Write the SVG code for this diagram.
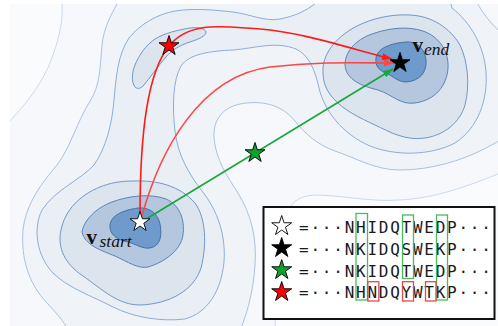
<svg xmlns="http://www.w3.org/2000/svg" width="498" height="326" viewBox="0 0 498 326">
  <style>
    .c0{fill:#f6f8fb;stroke:#ccdaeb;stroke-width:1}
    .c1{fill:#f0f4f9;stroke:#a9c2e1;stroke-width:1}
    .c2{fill:#eaeff6;stroke:#8badd6;stroke-width:1}
    .c3{fill:#dce4ee;stroke:#7097c7;stroke-width:1}
    .c4{fill:#b5c7de;stroke:#5a83b8;stroke-width:1}
    .c5{fill:#6e9bcc;stroke:#46709f;stroke-width:1}
    .edge{fill:none;stroke-width:1.6}
    .red{stroke:#ff1a1a}
    .red2{stroke:#ff4646}
    .green{stroke:#16a83a}
    .star{stroke:#000;stroke-width:0.9}
    .lbl{font-family:"Liberation Serif","DejaVu Serif",serif;fill:#111}
    .seq{font-family:"DejaVu Sans Mono",monospace;font-size:16px;letter-spacing:1.75px;fill:#1a1a1a}
    .gb{fill:none;stroke:#4cbb5e;stroke-width:1.3}
    .rb{fill:none;stroke:#e24a4a;stroke-width:1.3}
  </style>
  <defs>
    <clipPath id="plot"><rect x="10" y="4" width="488" height="322"/></clipPath>
    <path id="star" d="M0,-10.5 L2.36,-3.24 L9.99,-3.24 L3.81,1.24 L6.17,8.49 L0,4.01 L-6.17,8.49 L-3.81,1.24 L-9.99,-3.24 L-2.36,-3.24 Z"/>
    <marker id="ahRed" viewBox="0 0 11 8" refX="10" refY="4" markerWidth="11" markerHeight="8" markerUnits="userSpaceOnUse" orient="auto">
      <path d="M0,0.5 L10.5,4 L0,7.5 Z" fill="#ff1a1a"/>
    </marker>
    <marker id="ahRed2" viewBox="0 0 11 8" refX="10" refY="4" markerWidth="11" markerHeight="8" markerUnits="userSpaceOnUse" orient="auto">
      <path d="M0,0.5 L10.5,4 L0,7.5 Z" fill="#ff4646"/>
    </marker>
    <marker id="ahGreen" viewBox="0 0 11 8" refX="10" refY="4" markerWidth="11" markerHeight="8" markerUnits="userSpaceOnUse" orient="auto">
      <path d="M0,0.5 L10.5,4 L0,7.5 Z" fill="#16a83a"/>
    </marker>
  </defs>

  <rect width="498" height="326" fill="#ffffff"/>

  <!-- contour map of the landscape -->
  <g id="landscape" clip-path="url(#plot)">
    <rect x="10" y="4" width="488" height="322" fill="#fafbfd"/>
    <path class="c0" d="M62,-20 L62,4 C63,20 60,35 53,55 C45,78 30,105 -20,150 L-20,350 L274,350 C276,300 280,235 287,213 C292,200 302,195 318,195 C345,196 372,202 400,200 C435,198 465,188 520,165 L520,-20 Z"/>
    <path class="c1" d="M117,-20 L117,4 C111,15 104,27 102,45 C100,65 101,85 89,103 C78,120 70,148 57,165 C42,183 26,203 23,230 C21,258 28,283 47,303 C57,314 66,322 72,340 L236,340 C246,318 253,295 255,265 C257,238 251,214 238,193 C227,176 216,160 214,138 C213,120 222,108 240,104 C260,100 281,104 294,120 C305,134 318,145 335,151 C356,158 375,170 400,170 C432,170 462,160 482,150 C492,145 500,140 520,130 L520,45 C505,38 492,25 485,15 C480,8 475,2 470,-20 Z"/>
    <path class="c2" d="M316,-20 L316,3 C306,11 295,16 280,19 C265,22 250,14 233,12 C215,10 195,8 175,11 C158,14 140,24 129,38 C118,54 116,77 114,100 C112,124 106,148 94,165 C80,180 55,190 42,210 C33,228 36,255 53,273 C68,288 92,296 113,307 C133,317 160,322 185,319 C207,313 221,292 224,262 C226,236 218,211 202,191 C189,174 178,156 175,131 C172,106 173,80 181,66 C189,54 210,51 233,50 C256,48 276,41 296,49 C309,55 315,70 319,88 C324,110 342,134 370,146 C395,156 430,156 455,143 C478,128 488,100 486,72 C484,45 470,22 452,8 L445,-20 Z"/>
    <path class="c3" d="M133,181 C158,180 180,186 195,203 C206,218 207,245 201,268 C194,290 170,304 140,305 C118,305 103,290 83,276 C65,264 57,248 61,230 C65,210 80,195 100,187 C110,183 120,181 133,181 Z"/>
    <path class="c3" d="M135,87 C131,82 132,72 135,65 C139,55 146,45 155,39 C165,33 178,30 190,28 C198,27 205,28 206,32 C206,36 199,39 190,42 C180,45 172,50 166,57 C158,66 150,78 143,86 C140,89 137,89 135,87 Z"/>
    <path class="c3" d="M323,72 C322,55 335,38 355,27 C372,18 392,14 410,15 C432,16 450,28 460,45 C468,62 470,85 465,105 C460,122 445,135 425,138 C405,141 390,132 375,125 C360,118 343,110 333,98 C326,90 323,82 323,72 Z"/>
    <path class="c4" d="M82,232 C84,220 96,208 112,202 C128,196 150,193 166,199 C180,205 185,220 183,235 C181,250 165,262 148,267 C138,269 128,262 115,256 C100,250 85,245 82,232 Z"/>
    <path class="c4" d="M345,65 C345,50 358,38 375,33 C390,28 408,26 423,31 C440,37 449,52 448,68 C447,85 436,100 415,103 C400,105 393,95 378,90 C362,86 346,80 345,65 Z"/>
    <path class="c5" d="M110,225 C111,215 124,210 138,208 C150,207 158,214 160,224 C162,235 161,246 150,248 C142,249 136,244 128,242 C118,240 109,235 110,225 Z"/>
    <path class="c5" d="M376,58 C377,48 392,43 406,42 C418,41 425,50 426,60 C427,72 420,81 406,82 C398,82 393,76 386,73 C378,70 375,65 376,58 Z"/>
  </g>

  <!-- paths from start to end -->
  <g id="connectors">
    <path class="edge red" marker-end="url(#ahRed)" d="M140,216 C140,130 148,72 169,46 C190,20 225,27 260,29 C300,32 345,47 392,59"/>
    <path class="edge red2" marker-end="url(#ahRed2)" d="M142,216 C160,150 200,76 270,67 C320,61 360,63 394,63"/>
    <path class="edge green" marker-end="url(#ahGreen)" d="M143,221 L393,69"/>
  </g>

  <g id="start">
    <use href="#star" class="star" x="140" y="222" fill="#ffffff"/>
    <text class="lbl" x="86.5" y="244" font-size="21" font-weight="bold">v</text>
    <text class="lbl" x="99.5" y="246.5" font-size="17.5" font-style="italic">start</text>
  </g>
  <g id="end">
    <use href="#star" class="star" x="400" y="63" fill="#000000"/>
    <text class="lbl" x="412.5" y="52" font-size="21" font-weight="bold">v</text>
    <text class="lbl" x="424" y="54.5" font-size="17.5" font-style="italic">end</text>
  </g>
  <g id="red-sample">
    <use href="#star" class="star" x="169" y="46" fill="#ff0000"/>
  </g>
  <g id="green-sample">
    <use href="#star" class="star" x="255" y="153" fill="#10a030"/>
  </g>

  <!-- sequence legend -->
  <g id="legend">
    <rect x="263.5" y="207" width="231" height="112" fill="#ffffff" stroke="#111" stroke-width="2"/>
    <use href="#star" class="star" x="281.7" y="226" fill="#ffffff"/>
    <use href="#star" class="star" x="281.7" y="248" fill="#000000"/>
    <use href="#star" class="star" x="281.7" y="270" fill="#10a030"/>
    <use href="#star" class="star" x="281.7" y="292" fill="#ff0000"/>
    <text class="seq" x="299.1" y="233.3">=···NHIDQTWEDP···</text>
    <text class="seq" x="299.1" y="255">=···NKIDQSWEKP···</text>
    <text class="seq" x="299.1" y="276.7">=···NKIDQTWEDP···</text>
    <text class="seq" x="299.1" y="298.3">=···NHNDQYWTKP···</text>
    <rect class="gb" x="356" y="213.5" width="11.5" height="86.5"/>
    <rect class="gb" x="402.5" y="215" width="11" height="63.5"/>
    <rect class="gb" x="436.5" y="215" width="11" height="85"/>
    <rect class="rb" x="367.8" y="281.7" width="11" height="19.3"/>
    <rect class="rb" x="402.5" y="281.7" width="11" height="19.3"/>
    <rect class="rb" x="425.5" y="281.7" width="10.5" height="19.3"/>
  </g>
</svg>
